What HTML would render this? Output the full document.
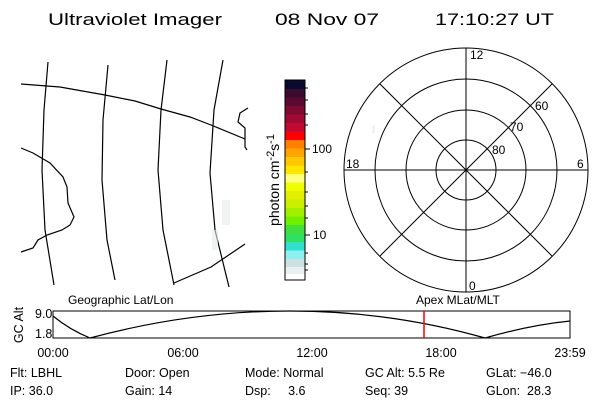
<!DOCTYPE html>
<html><head><style>body{margin:0;background:#fff}svg{display:block}text{font-family:"Liberation Sans",sans-serif;fill:#000}</style></head><body>
<svg width="600" height="400" viewBox="0 0 600 400" xmlns="http://www.w3.org/2000/svg">
<g font-size="17" style="fill:#111">
<text x="48" y="25" textLength="174" lengthAdjust="spacingAndGlyphs">Ultraviolet Imager</text>
<text x="275" y="25" textLength="104" lengthAdjust="spacingAndGlyphs">08 Nov 07</text>
<text x="435" y="25" textLength="119" lengthAdjust="spacingAndGlyphs">17:10:27 UT</text>
</g>
<g fill="none" stroke="#000" stroke-width="1.2">
<path d="M48,62 L44,110 L42,170 L45,230 L54,285"/>
<path d="M108,65 L103,120 L102,180 L107,240 L115,280"/>
<path d="M167,60 L161,110 L158,170 L163,230 L174,285"/>
<path d="M223,60 L214,110 L210,173 L215,230 L229,287"/>
<path d="M21,84 L60,87 L105,95 L135,101 L161,109 L190,117 L211,125 L245,139"/>
<path d="M174,283 L211,267 L245,244"/>
<path d="M21,148 L33,153 L50,163 L63,177 L67,187 L68,203 L74,217 L70,225 L62,230 L47,235 L38,240 L33,248 L21,252"/>
<path d="M248,108 L240,113 L238,122 L245,128 L245,147 L247,150"/>
</g>
<g fill="#e6eeec" opacity="0.6">
<rect x="222" y="200" width="8" height="25"/><rect x="212" y="230" width="6" height="20"/><rect x="372" y="125" width="3" height="8"/>
</g>
<g>
<rect x="285" y="80" width="20" height="9" fill="#0a0a30"/>
<rect x="285" y="89" width="20" height="8.5" fill="#3c0a2c"/>
<rect x="285" y="97.5" width="20" height="8.5" fill="#5a0a30"/>
<rect x="285" y="106" width="20" height="8.5" fill="#7e0a30"/>
<rect x="285" y="114.5" width="20" height="8.5" fill="#a00a32"/>
<rect x="285" y="123" width="20" height="8.5" fill="#c00a32"/>
<rect x="285" y="131.5" width="20" height="8.5" fill="#ff0000"/>
<rect x="285" y="140" width="20" height="8.5" fill="#ff7f00"/>
<rect x="285" y="148.5" width="20" height="8.5" fill="#ffa500"/>
<rect x="285" y="157" width="20" height="8.5" fill="#ffc800"/>
<rect x="285" y="165.5" width="20" height="8.5" fill="#ffe600"/>
<rect x="285" y="174" width="20" height="8.5" fill="#ffff80"/>
<rect x="285" y="182.5" width="20" height="8.5" fill="#f0ff00"/>
<rect x="285" y="191" width="20" height="8.5" fill="#e0f000"/>
<rect x="285" y="199.5" width="20" height="8.5" fill="#c8f000"/>
<rect x="285" y="208" width="20" height="8.5" fill="#a0f000"/>
<rect x="285" y="216.5" width="20" height="8.5" fill="#70f000"/>
<rect x="285" y="225" width="20" height="8.5" fill="#40e040"/>
<rect x="285" y="233.5" width="20" height="8.5" fill="#30e060"/>
<rect x="285" y="242" width="20" height="8.5" fill="#30e0d0"/>
<rect x="285" y="250.5" width="20" height="8.5" fill="#90f0f0"/>
<rect x="285" y="259" width="20" height="8" fill="#d0e0e0"/>
<rect x="285" y="267" width="20" height="7" fill="#e8f2ee"/>
<rect x="285" y="80" width="20" height="200" fill="none" stroke="#000" stroke-width="1"/>
<g stroke="#000"><path d="M305,149h5M305,235h5M305,88h3M305,100h3M305,114h3M305,125h3M305,172h3M305,192h3M305,206h3M305,218h3M305,253h3M305,264h3M305,270h3"/></g>
<text x="312" y="153" font-size="12">100</text>
<text x="313" y="239" font-size="12">10</text>
<text transform="translate(279,180) rotate(-90)" text-anchor="middle" font-size="14">photon cm<tspan dy="-5" font-size="11">-2</tspan><tspan dy="5">s</tspan><tspan dy="-5" font-size="11">-1</tspan></text>
</g>
<g fill="none" stroke="#000" stroke-width="1">
<circle cx="466" cy="170" r="30"/><circle cx="466" cy="170" r="60"/><circle cx="466" cy="170" r="91"/><circle cx="466" cy="170" r="122"/>
<path d="M344,170H588M466,48V292M380,84L552,256M552,84L380,256"/>
</g>
<g font-size="12">
<text x="470" y="59">12</text><text x="346" y="168">18</text><text x="577" y="168">6</text><text x="469" y="290">0</text>
<text x="535" y="110">60</text><text x="510" y="131">70</text><text x="492" y="154">80</text>
<text x="68" y="304">Geographic Lat/Lon</text>
<text x="416" y="304">Apex MLat/MLT</text>
</g>
<rect x="53" y="311" width="517" height="27" fill="none" stroke="#000" stroke-width="1"/>
<path d="M53,316 Q70,330 90,338 Q190,311 290,311 Q390,311 485,338 Q530,325 570,321" fill="none" stroke="#000" stroke-width="1.2"/>
<path d="M424,311V338" stroke="#f00" stroke-width="1.5"/>
<g font-size="12.5">
<text x="35" y="318">9.0</text><text x="35" y="338">1.8</text>
<text transform="translate(23,325) rotate(-90)" text-anchor="middle">GC Alt</text>
<text x="53" y="357" text-anchor="middle">00:00</text><text x="183" y="357" text-anchor="middle">06:00</text><text x="312" y="357" text-anchor="middle">12:00</text><text x="441" y="357" text-anchor="middle">18:00</text><text x="570" y="357" text-anchor="middle">23:59</text>
<text x="10" y="377">Flt: LBHL</text><text x="125" y="377">Door: Open</text><text x="245" y="377">Mode: Normal</text><text x="365" y="377">GC Alt: 5.5 Re</text><text x="486" y="377">GLat: −46.0</text>
<text x="10" y="395">IP: 36.0</text><text x="125" y="395">Gain: 14</text><text x="245" y="395">Dsp:&#160;&#160;&#160;&#160;&#160;3.6</text><text x="365" y="395">Seq: 39</text><text x="486" y="395">GLon:&#160;&#160;28.3</text>
</g>
</svg>
</body></html>
